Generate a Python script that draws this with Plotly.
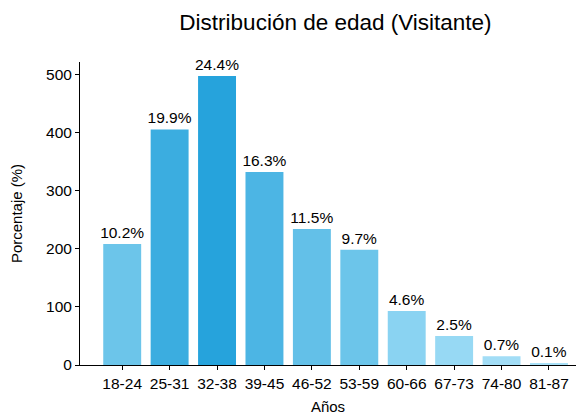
import plotly.graph_objects as go

categories = ["18-24", "25-31", "32-38", "39-45", "46-52", "53-59", "60-66", "67-73", "74-80", "81-87"]
counts = [208, 405, 497, 332, 234, 198, 93, 50, 15, 2]
pct_labels = ["10.2%", "19.9%", "24.4%", "16.3%", "11.5%", "9.7%", "4.6%", "2.5%", "0.7%", "0.1%"]
colors = ["#6cc5ea", "#3bade0", "#26a3dc", "#4cb5e4", "#63c0e8", "#6cc5ea",
          "#8ad3f2", "#97d9f4", "#a2ddf6", "#a8e0f7"]

fig = go.Figure(go.Bar(
    x=categories, y=counts, text=pct_labels, textposition="outside",
    marker=dict(color=colors, line=dict(width=0)),
    textfont=dict(size=15.5, color="#000000"),
    constraintext="none",
    cliponaxis=False, width=0.8,
))

fig.update_layout(
    width=586, height=419,
    margin=dict(l=72, r=18, t=54, b=62),
    paper_bgcolor="white", plot_bgcolor="white",
    font=dict(family="Liberation Sans, Arial, sans-serif", color="#000000", size=15),
    title=dict(text="Distribución de edad (Visitante)", x=327.5 / 586, xanchor="center",
               y=1 - 14 / 419, yanchor="middle", font=dict(size=22.5, color="#000000")),
    showlegend=False,
    bargap=0.2,
)
fig.update_xaxes(
    range=[-0.89, 9.57], showline=True, linecolor="#000000", linewidth=1,
    ticks="outside", ticklen=4, tickcolor="#000000", showgrid=False,
    title=dict(text="Años", font=dict(size=15), standoff=10),
    tickfont=dict(size=15.5), automargin=False,
)
fig.update_yaxes(
    range=[0, 521], showline=True, linecolor="#000000", linewidth=1,
    ticks="outside", ticklen=4, tickcolor="#000000", showgrid=False,
    tickvals=[0, 100, 200, 300, 400, 500], zeroline=False,
    title=dict(text="Porcentaje (%)", font=dict(size=15), standoff=30),
    tickfont=dict(size=15.5), automargin=False,
)

fig.write_html("out.html")
